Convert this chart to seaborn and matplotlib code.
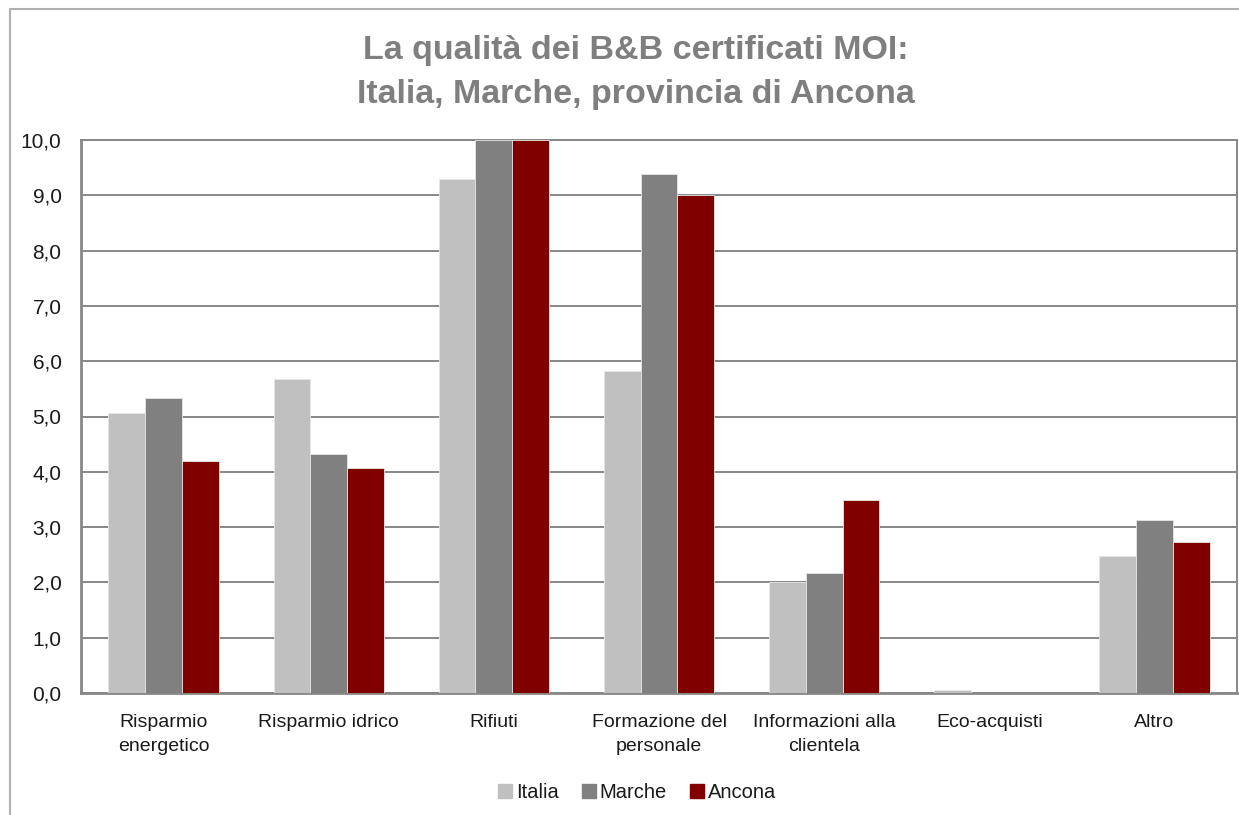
import matplotlib
matplotlib.use("Agg")
import matplotlib.pyplot as plt
from matplotlib import font_manager
from matplotlib.lines import Line2D
from matplotlib.ticker import FixedLocator, FuncFormatter
import seaborn as sns
import pandas as pd

# Categories and series values
categories = [
    "Risparmio\nenergetico",
    "Risparmio idrico",
    "Rifiuti",
    "Formazione del\npersonale",
    "Informazioni alla\nclientela",
    "Eco-acquisti",
    "Altro",
]
series = ["Italia", "Marche", "Ancona"]
italia = [5.07, 5.68, 9.30, 5.83, 2.01, 0.06, 2.47]
marche = [5.34, 4.32, 10.0, 9.38, 2.17, 0.0, 3.12]
ancona = [4.19, 4.07, 10.0, 9.00, 3.49, 0.0, 2.73]
y_ticks = [0, 1, 2, 3, 4, 5, 6, 7, 8, 9, 10]

colors = {"Italia": "#c0c0c0", "Marche": "#808080", "Ancona": "#800000"}

df = pd.DataFrame({
    "categoria": categories * 3,
    "serie": [s for s in series for _ in categories],
    "valore": italia + marche + ancona,
})

sns.set_style("white")
available = {f.name for f in font_manager.fontManager.ttflist}
narrow = "Liberation Sans Narrow" if "Liberation Sans Narrow" in available else "Liberation Sans"
plt.rcParams["font.family"] = [narrow, "DejaVu Sans"]

fig = plt.figure(figsize=(12.39, 8.15), dpi=100)
ax = fig.add_axes([81 / 1239, 1 - 693 / 815, (1237 - 81) / 1239, (693 - 140) / 815])

sns.barplot(
    data=df, x="categoria", y="valore", hue="serie",
    order=categories, hue_order=series, palette=colors,
    width=0.667, gap=0, saturation=1, edgecolor="#e6e6e6", linewidth=0.6,
    errorbar=None, legend=False, ax=ax, zorder=3,
)

ax.set_xlim(-0.5, len(categories) - 0.5)
ax.set_ylim(0, 10)
ax.set_xlabel("")
ax.set_ylabel("")

# Y axis: comma decimals, gridlines
ax.yaxis.set_major_locator(FixedLocator(y_ticks))
ax.yaxis.set_major_formatter(FuncFormatter(lambda v, _: f"{v:.1f}".replace(".", ",")))
ax.grid(axis="y", color="#878787", linewidth=1.4, zorder=0)
ax.set_axisbelow(True)
ax.tick_params(axis="y", length=7, width=1.2, color="#878787", labelsize=15,
               labelcolor="#1a1a1a", pad=7)

# X axis: labels at centres, tick marks at category boundaries
ax.tick_params(axis="x", which="major", length=0, labelsize=14, labelcolor="#1a1a1a", pad=15)
ax.set_xticks([i - 0.5 for i in range(len(categories) + 1)], minor=True)
ax.tick_params(axis="x", which="minor", length=6, width=1.2, color="#878787", direction="out")
for lbl in ax.get_xticklabels():
    lbl.set_multialignment("center")
    lbl.set_linespacing(1.55)

for side in ["left", "bottom", "right", "top"]:
    ax.spines[side].set_visible(True)
    ax.spines[side].set_color("#878787")
    ax.spines[side].set_linewidth(1.4)
ax.spines["left"].set_linewidth(2.0)
ax.spines["bottom"].set_linewidth(2.0)

# Title
fig.text(0.513, 1 - 51 / 815, "La qualità dei B&B certificati MOI:",
         ha="center", va="center", fontsize=24.5, fontweight="bold", color="#7f7f7f")
fig.text(0.513, 1 - 94 / 815, "Italia, Marche, provincia di Ancona",
         ha="center", va="center", fontsize=24.5, fontweight="bold", color="#7f7f7f")

# Legend
handles = [Line2D([], [], marker="s", linestyle="", markersize=10.5,
                  markerfacecolor=colors[s], markeredgecolor=colors[s]) for s in series]
fig.legend(handles, series, loc="center", bbox_to_anchor=(0.513, 1 - 793 / 815),
           ncol=3, frameon=False, fontsize=14.5, handletextpad=0.05, columnspacing=1.0,
           handlelength=1.0, labelcolor="#1a1a1a")

# Outer chart frame (top and left edges)
fig.add_artist(Line2D([10 / 1239, 10 / 1239], [0, 1 - 9 / 815], transform=fig.transFigure,
                      color="#b0b0b0", linewidth=1.5))
fig.add_artist(Line2D([10 / 1239, 1], [1 - 9 / 815, 1 - 9 / 815], transform=fig.transFigure,
                      color="#b0b0b0", linewidth=1.5))

fig.savefig("out.png", dpi=100, facecolor="white")
